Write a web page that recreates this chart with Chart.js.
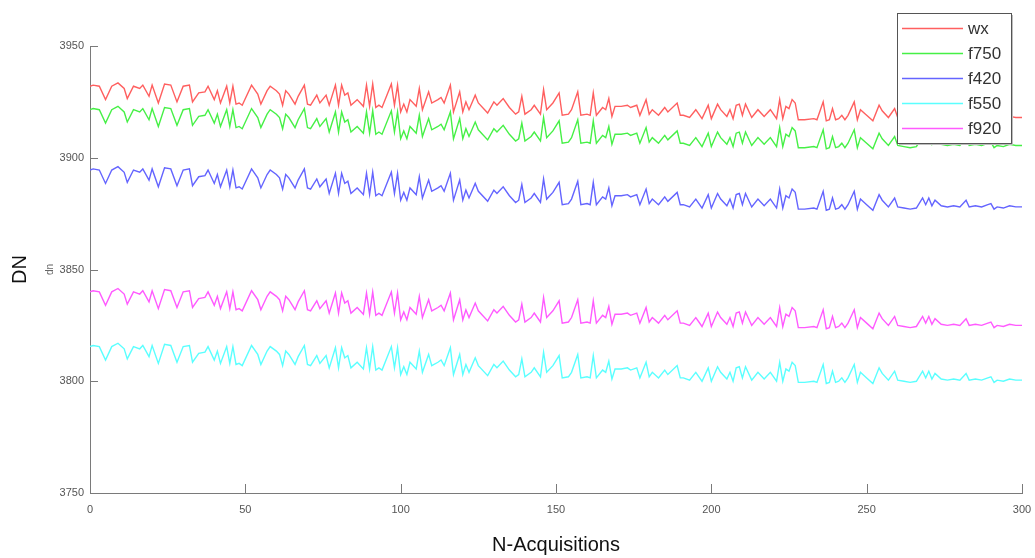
<!DOCTYPE html>
<html>
<head>
<meta charset="utf-8">
<script src="https://cdn.jsdelivr.net/npm/chart.js@4"></script>
<style>
  body { margin: 0; background: #fff; }
  #wrap { width: 1035px; height: 558px; }
</style>
</head>
<body>
<div id="wrap"><canvas id="myChart"></canvas></div>
<script>
// acquisition numbers (x positions)
const acquisitions = [
  0,1,3,5,7,9,11,12,14,16,
  17,19,20,22,24,26,28,30,32,33,
  35,37,38,40,41,42,44,45,46,47,
  48,49,52,54,55,57,58,60,61,62,
  63,64,66,67,69,70,71,73,74,76,
  77,79,80,81,82,83,84,86,88,89,
  90,91,92,93,94,97,98,99,100,101,
  102,103,105,106,107,109,110,112,113,114,
  116,117,119,120,121,122,124,125,128,130,
  131,133,135,137,138,139,140,142,143,145,
  146,147,149,151,152,154,155,157,158,160,
  161,162,163,165,166,167,168,169,171,173,
  174,176,177,179,180,181,183,185,186,189,
  190,191,193,195,196,197,199,200,202,203,
  205,206,207,208,209,210,211,213,215,217,
  219,221,222,223,224,225,226,227,228,230,
  233,234,236,237,238,239,240,241,242,243,
  244,246,247,248,250,252,254,255,257,259,
  260,262,264,266,268,269,270,271,272,274,
  276,278,280,282,283,285,287,289,290,291,
  292,294,296,298,300
];

const wx = [
  3932,3932.5,3932,3926,3932,3933.5,3931,3926.5,3932,3931,
  3932.5,3927.5,3932.5,3924.5,3933,3932.5,3925,3932,3932.5,3925,
  3929,3929.5,3932,3926,3930,3924.5,3932,3924.5,3932,3924,
  3924.5,3923.5,3932.5,3928.5,3924,3930,3932,3930,3928.5,3923.5,
  3930,3928.5,3924,3927.5,3932.5,3924,3923.5,3928,3924.5,3928,
  3923.5,3932.5,3923.5,3932.5,3928,3929,3923.5,3926,3923,3932.5,
  3923,3933,3922.5,3923.5,3922.5,3933,3923.5,3932.5,3920.5,3924,
  3920.5,3926,3923,3931,3921.5,3929.5,3924.5,3926,3927,3924.5,
  3932.5,3920.5,3929.5,3920.5,3925,3921.5,3928,3924.5,3920,3925,
  3923.5,3926.5,3922.5,3919.5,3920.5,3927.5,3919.5,3921.5,3923.5,3919.5,
  3930.5,3921.5,3924.5,3929,3919,3919.5,3921.5,3929.5,3919,3919.5,
  3919,3929,3919,3922.5,3921.5,3926.5,3918.5,3923,3923,3923.5,
  3922.5,3923.5,3919,3926,3919.5,3921.5,3919,3922.5,3920.5,3924.5,
  3919,3919,3918,3921.5,3919.5,3917.5,3923.5,3917.5,3924,3921.5,
  3918.5,3921.5,3917.5,3923.5,3924,3919,3924,3918,3921.5,3918.5,
  3921.5,3917.5,3926,3917.5,3923,3922,3926,3924.5,3917,3917,
  3917.5,3917,3925,3916.5,3917,3922,3917,3917.5,3919,3917,
  3919,3925,3917,3921.5,3919,3916.5,3923.5,3921,3918,3922,
  3918,3917.5,3917,3917.5,3922,3919,3922,3918.5,3921,3918.5,
  3918,3918.5,3918,3921,3918,3918.5,3918,3919,3919.5,3917,
  3918,3917.5,3918.5,3918,3918
];

const f750 = [
  3921.5,3922,3921.5,3915.5,3921.5,3923,3920.5,3916,3921.5,3920.5,
  3922,3917,3922,3914,3922.5,3922,3914.5,3921.5,3922,3914.5,
  3918.5,3919,3921.5,3915.5,3919.5,3914,3921.5,3914,3921.5,3913.5,
  3914,3913,3922,3918,3913.5,3919.5,3921.5,3919.5,3918,3913,
  3919.5,3918,3913.5,3917,3922,3913.5,3913,3917.5,3914,3917.5,
  3911.5,3920.5,3911.5,3920.5,3916,3917,3911.5,3914,3911,3920.5,
  3911,3921,3910.5,3911.5,3910.5,3921,3911.5,3920.5,3908.5,3912,
  3908.5,3914,3911,3919,3909.5,3917.5,3912.5,3914,3915,3912.5,
  3920.5,3908.5,3917.5,3908.5,3913,3909.5,3916,3912.5,3908,3913,
  3911.5,3914.5,3910.5,3907.5,3908.5,3915.5,3907.5,3909.5,3911.5,3907.5,
  3918,3909,3912,3916.5,3906.5,3907,3909,3917,3906.5,3907,
  3906.5,3916.5,3906.5,3910,3909,3914,3906,3910.5,3910.5,3911,
  3910,3911,3906.5,3913.5,3907,3909,3906.5,3910,3908,3912,
  3906.5,3906.5,3905.5,3909,3907,3905,3911,3905,3911.5,3909,
  3906,3909,3905,3911,3911.5,3906.5,3911.5,3905.5,3909,3906,
  3909,3905,3913.5,3905,3910.5,3909.5,3913.5,3912,3904.5,3904.5,
  3905,3904.5,3912.5,3904,3904.5,3909.5,3904.5,3905,3906.5,3904.5,
  3906.5,3912.5,3904.5,3909,3906.5,3904,3911,3908.5,3905.5,3909.5,
  3905.5,3905,3904.5,3905,3909.5,3906.5,3909.5,3906,3908.5,3906,
  3905.5,3906,3905.5,3908.5,3905.5,3906,3905.5,3906.5,3907,3904.5,
  3905.5,3905,3906,3905.5,3905.5
];

const f420 = [
  3894.5,3895,3894.5,3888.5,3894.5,3896,3893.5,3889,3894.5,3893.5,
  3895,3890,3895,3887,3895.5,3895,3887.5,3894.5,3895,3887.5,
  3891.5,3892,3894.5,3888.5,3892.5,3887,3894.5,3887,3894.5,3886.5,
  3887,3886,3895,3891,3886.5,3892.5,3894.5,3892.5,3891,3886,
  3892.5,3891,3886.5,3890,3895,3886.5,3886,3890.5,3887,3890.5,
  3884,3893,3884,3893,3888.5,3889.5,3884,3886.5,3883.5,3893,
  3883.5,3893.5,3883,3884,3883,3893.5,3884,3893,3881,3884.5,
  3881,3886.5,3883.5,3891.5,3882,3890,3885,3886.5,3887.5,3885,
  3893,3881,3890,3881,3885.5,3882,3888.5,3885,3880.5,3885.5,
  3884,3887,3883,3880,3881,3888,3880,3882,3884,3880,
  3890.5,3881.5,3884.5,3889,3879,3879.5,3881.5,3889.5,3879,3879.5,
  3879,3889,3879,3882.5,3881.5,3886.5,3878.5,3883,3883,3883.5,
  3882.5,3883.5,3879,3886,3879.5,3881.5,3879,3882.5,3880.5,3884.5,
  3879,3879,3878,3881.5,3879.5,3877.5,3883.5,3877.5,3884,3881.5,
  3878.5,3881.5,3877.5,3883.5,3884,3879,3884,3878,3881.5,3878.5,
  3881.5,3877.5,3886,3877.5,3883,3882,3886,3884.5,3877,3877,
  3877.5,3877,3885,3876.5,3877,3882,3877,3877.5,3879,3877,
  3879,3885,3877,3881.5,3879,3876.5,3883.5,3881,3878,3882,
  3878,3877.5,3877,3877.5,3882,3879,3882,3878.5,3881,3878.5,
  3878,3878.5,3878,3881,3878,3878.5,3878,3879,3879.5,3877,
  3878,3877.5,3878.5,3878,3878
];

const f550 = [
  3815.5,3816,3815.5,3809.5,3815.5,3817,3814.5,3810,3815.5,3814.5,
  3816,3811,3816,3808,3816.5,3816,3808.5,3815.5,3816,3808.5,
  3812.5,3813,3815.5,3809.5,3813.5,3808,3815.5,3808,3815.5,3807.5,
  3808,3807,3816,3812,3807.5,3813.5,3815.5,3813.5,3812,3807,
  3813.5,3812,3807.5,3811,3816,3807.5,3807,3811.5,3808,3811.5,
  3806,3815,3806,3815,3810.5,3811.5,3806,3808.5,3805.5,3815,
  3805.5,3815.5,3805,3806,3805,3815.5,3806,3815,3803,3806.5,
  3803,3808.5,3805.5,3813.5,3804,3812,3807,3808.5,3809.5,3807,
  3815,3803,3812,3803,3807.5,3804,3810.5,3807,3802.5,3807.5,
  3806,3809,3805,3802,3803,3810,3802,3804,3806,3802,
  3813,3804,3807,3811.5,3801.5,3802,3804,3812,3801.5,3802,
  3801.5,3811.5,3801.5,3805,3804,3809,3801,3805.5,3805.5,3806,
  3805,3806,3801.5,3808.5,3802,3804,3801.5,3805,3803,3807,
  3801.5,3801.5,3800.5,3804,3802,3800,3806,3800,3806.5,3804,
  3801,3804,3800,3806,3806.5,3801.5,3806.5,3800.5,3804,3801,
  3804,3800,3808.5,3800,3805.5,3804.5,3808.5,3807,3799.5,3799.5,
  3800,3799.5,3807.5,3799,3799.5,3804.5,3799.5,3800,3801.5,3799.5,
  3801.5,3807.5,3799.5,3804,3801.5,3799,3806,3803.5,3800.5,3804.5,
  3800.5,3800,3799.5,3800,3804.5,3801.5,3804.5,3801,3803.5,3801,
  3800.5,3801,3800.5,3803.5,3800.5,3801,3800.5,3801.5,3802,3799.5,
  3800.5,3800,3801,3800.5,3800.5
];

const f920 = [
  3840,3840.5,3840,3834,3840,3841.5,3839,3834.5,3840,3839,
  3840.5,3835.5,3840.5,3832.5,3841,3840.5,3833,3840,3840.5,3833,
  3837,3837.5,3840,3834,3838,3832.5,3840,3832.5,3840,3832,
  3832.5,3831.5,3840.5,3836.5,3832,3838,3840,3838,3836.5,3831.5,
  3838,3836.5,3832,3835.5,3840.5,3832,3831.5,3836,3832.5,3836,
  3830.5,3839.5,3830.5,3839.5,3835,3836,3830.5,3833,3830,3839.5,
  3830,3840,3829.5,3830.5,3829.5,3840,3830.5,3839.5,3827.5,3831,
  3827.5,3833,3830,3838,3828.5,3836.5,3831.5,3833,3834,3831.5,
  3839.5,3827.5,3836.5,3827.5,3832,3828.5,3835,3831.5,3827,3832,
  3830.5,3833.5,3829.5,3826.5,3827.5,3834.5,3826.5,3828.5,3830.5,3826.5,
  3837.5,3828.5,3831.5,3836,3826,3826.5,3828.5,3836.5,3826,3826.5,
  3826,3836,3826,3829.5,3828.5,3833.5,3825.5,3830,3830,3830.5,
  3829.5,3830.5,3826,3833,3826.5,3828.5,3826,3829.5,3827.5,3831.5,
  3826,3826,3825,3828.5,3826.5,3824.5,3830.5,3824.5,3831,3828.5,
  3825.5,3828.5,3824.5,3830.5,3831,3826,3831,3825,3828.5,3825.5,
  3828.5,3824.5,3833,3824.5,3830,3829,3833,3831.5,3824,3824,
  3824.5,3824,3832,3823.5,3824,3829,3824,3824.5,3826,3824,
  3826,3832,3824,3828.5,3826,3823.5,3830.5,3828,3825,3829,
  3825,3824.5,3824,3824.5,3829,3826,3829,3825.5,3828,3825.5,
  3825,3825.5,3825,3828,3825,3825.5,3825,3826,3826.5,3824,
  3825,3824.5,3825.5,3825,3825
];

const seriesNames = ['wx', 'f750', 'f420', 'f550', 'f920'];
const seriesColors = ['rgb(255,95,95)', 'rgb(70,240,70)', 'rgb(100,100,255)', 'rgb(90,255,255)', 'rgb(255,90,255)'];
const yTicks = [3750, 3800, 3850, 3900, 3950];
const xTicks = [0, 50, 100, 150, 200, 250, 300];

const font = 'Liberation Sans, Arial, sans-serif';
const axisColor = '#7a7a7a';

function pairs(vals) {
  return acquisitions.map((a, i) => ({ x: a, y: vals[i] }));
}

// ticks pointing into the plot, like the original
const innerTicks = {
  id: 'innerTicks',
  afterDraw(chart) {
    const ctx = chart.ctx;
    const a = chart.chartArea;
    const xs = chart.scales.x, ys = chart.scales.y;
    ctx.save();
    ctx.strokeStyle = axisColor;
    ctx.lineWidth = 1;
    ctx.beginPath();
    yTicks.forEach(v => {
      const y = Math.round(ys.getPixelForValue(v)) + 0.5;
      ctx.moveTo(a.left, y);
      ctx.lineTo(a.left + 8, y);
    });
    xTicks.forEach(v => {
      const x = Math.round(xs.getPixelForValue(v)) + 0.5;
      ctx.moveTo(x, a.bottom);
      ctx.lineTo(x, a.bottom - 9);
    });
    ctx.stroke();

    // small "dn" label beside the tick labels
    ctx.fillStyle = '#666';
    ctx.font = '10px ' + font;
    ctx.translate(50, (a.top + a.bottom) / 2);
    ctx.rotate(-Math.PI / 2);
    ctx.textAlign = 'center';
    ctx.textBaseline = 'middle';
    ctx.fillText('dn', 0, 0);
    ctx.restore();
  }
};

// legend box drawn over the plot (top right)
const boxLegend = {
  id: 'boxLegend',
  afterDraw(chart) {
    const ctx = chart.ctx;
    const bx = 897, by = 13, bw = 114, bh = 130;
    ctx.save();
    ctx.fillStyle = '#bdbdbd';
    ctx.fillRect(bx + 2, by + 2, bw, bh);
    ctx.fillStyle = '#fff';
    ctx.fillRect(bx, by, bw, bh);
    ctx.strokeStyle = '#555';
    ctx.lineWidth = 1;
    ctx.strokeRect(bx + 0.5, by + 0.5, bw, bh);
    ctx.font = '17px ' + font;
    ctx.textBaseline = 'middle';
    chart.data.datasets.forEach((ds, i) => {
      const y = by + 15 + i * 25;
      ctx.strokeStyle = ds.borderColor;
      ctx.lineWidth = 1.5;
      ctx.beginPath();
      ctx.moveTo(bx + 5, y + 0.5);
      ctx.lineTo(bx + 66, y + 0.5);
      ctx.stroke();
      ctx.fillStyle = '#333';
      ctx.fillText(ds.label, bx + 71, y + 1);
    });
    ctx.restore();
  }
};

const ctx = document.getElementById('myChart');

const chart = new Chart(ctx, {
  type: 'line',
  data: {
    datasets: [wx, f750, f420, f550, f920].map((vals, i) => ({
      label: seriesNames[i],
      data: pairs(vals),
      borderColor: seriesColors[i],
      borderWidth: 1.4,
      pointRadius: 0,
      tension: 0,
      fill: false
    }))
  },
  options: {
    responsive: true,
    maintainAspectRatio: false,
    animation: false,
    layout: { padding: { top: 46, right: 13, left: 0, bottom: 0 } },
    plugins: {
      legend: { display: false },
      tooltip: { enabled: false }
    },
    scales: {
      x: {
        type: 'linear',
        min: 0,
        max: 300,
        afterFit(scale) {
          scale.height = 65;
          scale.paddingLeft = 0;
          scale.paddingRight = 0;
        },
        afterBuildTicks(scale) { scale.ticks = xTicks.map(v => ({ value: v })); },
        grid: { display: false, drawTicks: false },
        border: { display: true, color: axisColor, width: 1 },
        ticks: {
          color: '#555', padding: 10, maxRotation: 0,
          font: { family: font, size: 11 },
          callback: v => String(v)
        },
        title: {
          display: true,
          text: 'N-Acquisitions',
          color: '#111',
          font: { family: font, size: 20 },
          padding: { top: 0, bottom: 1 }
        }
      },
      y: {
        min: 3750,
        max: 3950,
        afterFit(scale) {
          scale.width = 90;
          scale.paddingTop = 0;
          scale.paddingBottom = 0;
        },
        afterBuildTicks(scale) { scale.ticks = yTicks.map(v => ({ value: v })); },
        grid: { display: false, drawTicks: false },
        border: { display: true, color: axisColor, width: 1 },
        ticks: {
          color: '#555', padding: 6,
          font: { family: font, size: 11 },
          callback: v => String(v)
        },
        title: {
          display: true,
          text: 'DN',
          color: '#111',
          font: { family: font, size: 20 },
          padding: { top: 8, bottom: 0 }
        }
      }
    }
  },
  plugins: [innerTicks, boxLegend]
});
</script>
</body>
</html>
